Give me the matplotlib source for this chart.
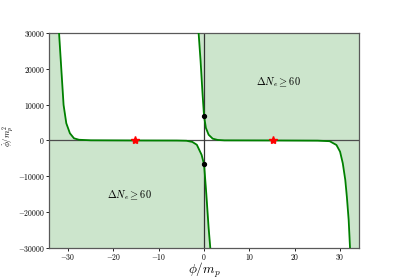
import matplotlib
matplotlib.use("Agg")
import matplotlib.pyplot as plt

plt.rcParams['font.family'] = 'serif'
plt.rcParams['font.serif'] = ['cmr10']
plt.rcParams['mathtext.fontset'] = 'cm'
plt.rcParams['axes.formatter.use_mathtext'] = True

# curve A: upper-left branch, flat at 0, then drops through the lower dot
curve_a_x = [-32.0, -31.5, -31.0, -30.4, -29.6, -28.7, -27.6, -25.0, -15.3, -6.0,
             -3.9, -2.6, -1.6, -0.55, 0.0, 0.5, 1.0, 1.37]
curve_a_y = [30000, 19900, 9900, 4800, 2000, 600, 200, 50, 0, -20,
             -80, -400, -1200, -4000, -6700, -15100, -24400, -30000]

# curve B: upper branch through the upper dot, flat at 0, then drops at right
curve_b_x = [-1.21, -0.77, -0.33, 0.0, 0.4, 1.0, 1.9, 3.0, 4.5, 15.3,
             25.0, 27.7, 29.2, 30.0, 30.6, 31.15, 31.5, 31.9, 32.2]
curve_b_y = [30000, 22100, 12800, 6700, 3500, 1600, 500, 150, 30, 0,
             -50, -200, -1260, -3130, -6360, -11000, -15700, -22200, -30000]

dots_x = [0, 0]
dots_y = [6700, -6700]
stars_x = [-15.3, 15.3]
stars_y = [0, 0]

x_lim = (-34.2, 34.2)
y_lim = (-30000, 30000)

fig, ax = plt.subplots(figsize=(3.99, 2.79), dpi=100)
fig.subplots_adjust(left=0.123, right=0.9, bottom=0.111, top=0.882)

# shaded regions (below curve A, above curve B)
fa_x = [x_lim[0]] + curve_a_x
fa_y = [y_lim[1]] + curve_a_y
ax.fill_between(fa_x, y_lim[0], fa_y, color='green', alpha=0.2, linewidth=0)
fb_x = curve_b_x + [x_lim[1]]
fb_y = curve_b_y + [y_lim[0]]
ax.fill_between(fb_x, fb_y, y_lim[1], color='green', alpha=0.2, linewidth=0)

ax.axhline(0, color='0.3', lw=0.9, zorder=1)
ax.axvline(0, color='0.2', lw=0.9, zorder=1)

ax.plot(curve_a_x, curve_a_y, color='green', lw=1.3, zorder=3)
ax.plot(curve_b_x, curve_b_y, color='green', lw=1.3, zorder=3)
ax.plot(dots_x, dots_y, 'o', color='black', ms=2.8, zorder=4)
ax.plot(stars_x, stars_y, '*', color='red', ms=6, zorder=4)

label = r'$\mathbf{\Delta} \boldsymbol{N_e} \geq \mathbf{60}$'
ax.text(16.5, 16300, label, ha='center', va='center', fontsize=7.5)
ax.text(-16.5, -15400, label, ha='center', va='center', fontsize=7.5)

ax.set_xlim(*x_lim)
ax.set_ylim(*y_lim)
ax.set_xticks([-30, -20, -10, 0, 10, 20, 30])
ax.set_yticks([-30000, -20000, -10000, 0, 10000, 20000, 30000])
ax.tick_params(labelsize=5.5, length=2, width=0.6, pad=1)

ax.set_xlabel(r'$\phi/m_p$', fontsize=9.5, labelpad=-1)
ax.set_ylabel(r'$\dot{\phi}/m_p^2$', fontsize=6)
ax.yaxis.set_label_coords(-0.108, 0.52)

for s in ax.spines.values():
    s.set_color('0.35')
    s.set_linewidth(0.9)

fig.savefig('out.png', dpi=100)
